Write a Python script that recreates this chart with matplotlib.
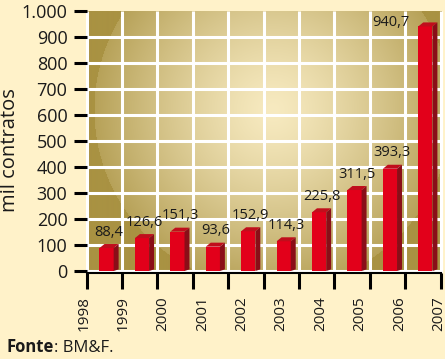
import numpy as np
import matplotlib
matplotlib.use("Agg")
import matplotlib.pyplot as plt
from matplotlib.patches import Polygon
from matplotlib import transforms

# ---- data ----
years = ["1998", "1999", "2000", "2001", "2002", "2003", "2004", "2005", "2006", "2007"]
values = [88.4, 126.6, 151.3, 93.6, 152.9, 114.3, 225.8, 311.5, 393.3, 940.7]
value_labels = ["88,4", "126,6", "151,3", "93,6", "152,9", "114,3", "225,8", "311,5", "393,3", "940,7"]
yticks = [0, 100, 200, 300, 400, 500, 600, 700, 800, 900, 1000]
ytick_labels = ["0", "100", "200", "300", "400", "500", "600", "700", "800", "900", "1.000"]

plt.rcParams['font.family'] = ['Open Sans', 'DejaVu Sans']
TXT = '#1a1a1a'
FIG_BG = '#FFF2C9'
DARK = np.array([0xA9, 0x92, 0x42]) / 255.0
LIGHT = np.array([0xF7, 0xEA, 0xC0]) / 255.0
FRONT = '#E2001A'
TOP = '#C00E1C'
SIDE = '#8A0E18'
GRID = 'white'

W, H = 445, 359
fig = plt.figure(figsize=(W / 100, H / 100), dpi=100, facecolor=FIG_BG)

x0, x1 = 86.5, 440.7
ytop, ybot = 11, 271
ax = fig.add_axes([x0 / W, (H - ybot) / H, (x1 - x0) / W, (ybot - ytop) / H])
n = len(years)
ax.set_facecolor(DARK)

# radial gold background
pw, ph = int(x1 - x0), int(ybot - ytop)
xx, yy = np.meshgrid(np.arange(pw) + 0.5, np.arange(ph) + 0.5)
cx, cy = 272 - x0, 110 - ytop
R = 178.0
r = np.sqrt((xx - cx) ** 2 + (yy - cy) ** 2) / R
t = np.clip(r, 0, 1) ** 1.3
t = np.where(r >= 1, 1.0, t * 0.82)
img = LIGHT[None, None, :] * (1 - t[..., None]) + DARK[None, None, :] * t[..., None]
ax.imshow(img, extent=(0, n, 0, 1000), origin='upper', aspect='auto', zorder=0,
          interpolation='bilinear')
ax.set_xlim(0, n)
ax.set_ylim(0, 1000)

# grid
for yv in yticks[:-1]:
    ax.axhline(yv, color=GRID, lw=2.2, zorder=1, clip_on=False)
ax.vlines(np.arange(n + 1), 0, 1000, color=GRID, lw=2.2, zorder=1, clip_on=False)

# bars
pos = np.arange(n) + 0.567
bw = 0.40
dx = 0.14
dy = 4.0 / ((ybot - ytop) / 1000.0)
bars = ax.bar(pos, values, width=bw, color=FRONT, zorder=3, linewidth=0)
for b in bars:
    xl, xr = b.get_x(), b.get_x() + b.get_width()
    h = b.get_height()
    ax.add_patch(Polygon([(xl, h), (xr, h), (xr + dx, h + dy), (xl + dx, h + dy)],
                         closed=True, facecolor=TOP, edgecolor='none', zorder=3))
    ax.add_patch(Polygon([(xr, 0), (xr + dx, dy * 0.4), (xr + dx, h + dy), (xr, h)],
                         closed=True, facecolor=SIDE, edgecolor='none', zorder=3))

# value labels
for i, (b, lab) in enumerate(zip(bars, value_labels)):
    h = b.get_height()
    if i == n - 1:
        ax.annotate(lab, (b.get_x(), h), xytext=(-6, 0), textcoords='offset points',
                    ha='right', va='baseline', fontsize=10.5, color=TXT, zorder=5)
    else:
        ax.annotate(lab, (b.get_x() + b.get_width() / 2 + dx / 2, h), xytext=(0, 9),
                    textcoords='offset points', ha='center', va='baseline',
                    fontsize=10.5, color=TXT, zorder=5)

# axes styling
for s in ['top', 'right', 'left']:
    ax.spines[s].set_visible(False)
ax.spines['bottom'].set_position(('outward', 1.5))
ax.spines['bottom'].set_linewidth(1.5)
ax.spines['bottom'].set_color('black')
ax.set_yticks(yticks)
ax.set_yticklabels(ytick_labels)
ax.tick_params(axis='y', length=9.4, width=2.2, color='black', pad=4.3,
               labelsize=13, labelcolor=TXT, direction='out')
ax.set_xticks(np.arange(n + 1))
ax.set_xticklabels([])
ax.tick_params(axis='x', length=11.5, width=2.2, color='black', direction='out')

# year labels (rotated)
trans = transforms.blended_transform_factory(ax.transData, ax.transAxes)
lab_start = (84 - x0) / ((x1 - x0) / n)
lab_step = 39.44 / ((x1 - x0) / n)
for i, yr in enumerate(years):
    ax.text(lab_start + i * lab_step, (ybot - 296) / (ybot - ytop), yr, transform=trans,
            rotation=90, ha='center', va='top', fontsize=11, color=TXT, clip_on=False)

fig.text(10 / W, 1 - 150 / H, 'mil contratos', rotation=90, ha='center', va='center',
         fontsize=14.5, color=TXT)

t1 = fig.text(7 / W, 3.5 / H, 'Fonte', fontsize=12, fontweight='bold', color=TXT,
              ha='left', va='bottom')
ax.annotate(': BM&F.', xy=(1, 0), xycoords=t1, ha='left', va='bottom',
            fontsize=12, color=TXT, annotation_clip=False)

fig.savefig('out.png', dpi=100, facecolor=FIG_BG)
